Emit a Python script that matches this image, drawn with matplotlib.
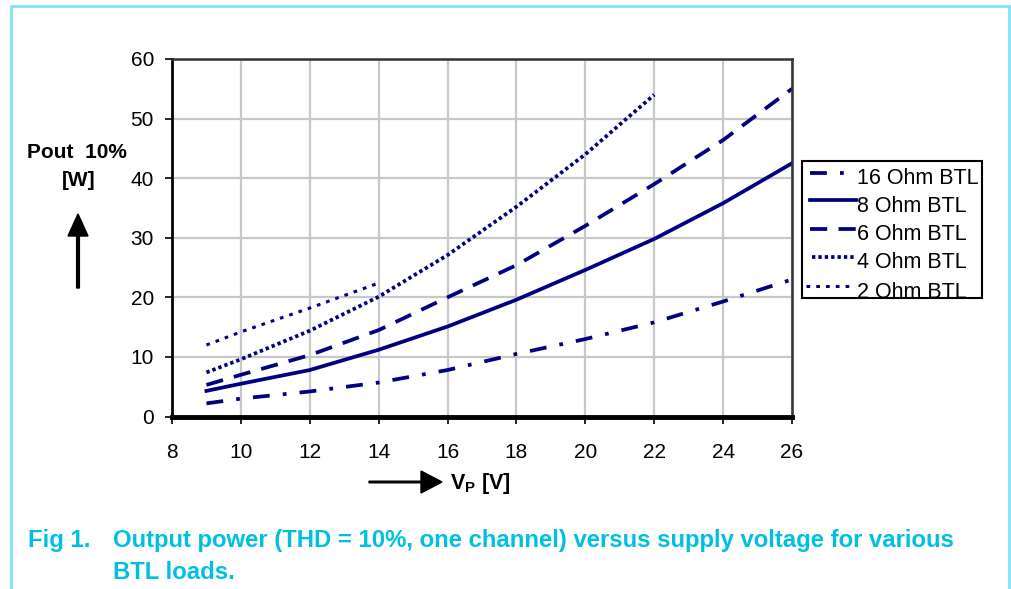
import matplotlib
matplotlib.use("Agg")
import matplotlib.pyplot as plt
from matplotlib.patches import FancyArrow, Rectangle
from matplotlib.lines import Line2D
from matplotlib.transforms import Bbox, TransformedBbox

plt.rcParams["font.family"] = ["Liberation Sans", "DejaVu Sans"]

W, H = 1012, 589

# supply voltage (V) and output power (W)
vp = [9, 10, 12, 14, 16, 18, 20, 22, 24, 26]
p16 = [2.2, 3.0, 4.2, 5.7, 7.8, 10.5, 13.0, 15.8, 19.3, 23.0]
p8 = [4.3, 5.5, 7.8, 11.2, 15.1, 19.6, 24.6, 29.8, 35.8, 42.5]
p6 = [5.3, 7.0, 10.3, 14.5, 20.0, 25.4, 32.0, 39.0, 46.4, 55.0]
vp4 = [9, 10, 12, 14, 16, 18, 20, 22]
p4 = [7.4, 9.6, 14.4, 20.1, 27.1, 35.2, 44.0, 54.0]
vp2 = [9, 10, 11, 12, 13, 14]
p2 = [12.0, 14.2, 16.2, 18.2, 20.3, 22.4]

labels = ["16 Ohm BTL", "8 Ohm BTL", "6 Ohm BTL", "4 Ohm BTL", "2 Ohm BTL"]
xticks = [8, 10, 12, 14, 16, 18, 20, 22, 24, 26]
yticks = [0, 10, 20, 30, 40, 50, 60]

navy = "#000080"
cyan = "#00c0e0"


def fx(px):
    return px / W


def fy(py):
    return 1 - py / H


fig = plt.figure(figsize=(W / 100, H / 100), dpi=100)

ax = fig.add_axes([fx(172), fy(416.5), fx(792) - fx(172), fy(59) - fy(416.5)])
ax.set_xlim(8, 26)
ax.set_ylim(0, 60)
ax.set_xticks(xticks)
ax.set_yticks(yticks)
ax.grid(True, color="#c8c8c8", linewidth=1.6)
ax.set_axisbelow(True)
for s in ["top", "right"]:
    ax.spines[s].set_color("#333333")
    ax.spines[s].set_linewidth(1.8)
ax.spines["left"].set_linewidth(2)
ax.spines["bottom"].set_linewidth(3.5)
ax.tick_params(axis="both", direction="out", length=5, width=1.2, labelsize=15)
ax.tick_params(axis="x", pad=14)
ax.tick_params(axis="y", pad=8)

lw = 2.7
styles = [
    dict(lw=lw, dashes=(4.5, 3.5, 1, 3.5)),
    dict(lw=lw, linestyle="-"),
    dict(lw=lw, dashes=(4.6, 3)),
    dict(lw=lw, dashes=(0.9, 0.8)),
    dict(lw=2.2, dashes=(1.2, 2)),
]
series = [(vp, p16), (vp, p8), (vp, p6), (vp4, p4), (vp2, p2)]
for (xs, ys), st in zip(series, styles):
    ax.plot(xs, ys, color=navy, **st)

# legend box, drawn by hand so the last row is cut off like the original
fig.add_artist(Rectangle((fx(802), fy(298)), fx(982) - fx(802), fy(161) - fy(298),
                         fill=False, edgecolor="black", linewidth=1.5,
                         transform=fig.transFigure, zorder=5))
clip = TransformedBbox(Bbox([[fx(790), fy(297)], [fx(1000), fy(150)]]),
                       fig.transFigure)
row_y = [173, 200, 229, 257, 286]
hx = [(810, 853), (810, 856), (810, 856), (812, 856), (806, 852)]
for lab, st, y, (x0, x1) in zip(labels, styles, row_y, hx):
    fig.add_artist(Line2D([fx(x0), fx(x1)], [fy(y), fy(y)], color=navy,
                          transform=fig.transFigure, **st))
    t = fig.text(fx(857), fy(y + 6), lab, fontsize=15.5, va="center", ha="left")
    t.set_clip_box(clip)
    t.set_clip_on(True)

# y label with up arrow
fig.text(fx(77), fy(152), "Pout  10%", ha="center", va="center",
         fontsize=15, fontweight="bold")
fig.text(fx(79), fy(180), "[W]", ha="center", va="center",
         fontsize=15, fontweight="bold")
fig.add_artist(FancyArrow(fx(78), fy(288), 0, fy(214) - fy(288),
                          width=1.6 / H, head_width=20 / W, head_length=22 / H,
                          length_includes_head=True, color="black",
                          transform=fig.transFigure))

# x label with right arrow
fig.add_artist(FancyArrow(fx(369), fy(482), fx(442) - fx(369), 0,
                          width=1.6 / H, head_width=22 / H, head_length=21 / W,
                          length_includes_head=True, color="black",
                          transform=fig.transFigure))
fig.text(fx(450), fy(483), r"V$_{\mathregular{P}}$ [V]", ha="left", va="center",
         fontsize=15.5, fontweight="bold")

# cyan frame
fig.add_artist(Rectangle((fx(11), -0.1), fx(1009) - fx(11), fy(6) + 0.1,
                         fill=False, edgecolor="#80e4f2", linewidth=2,
                         transform=fig.transFigure))

# caption
cap_kw = dict(color=cyan, fontsize=17.2, fontweight="bold", va="baseline")
fig.text(fx(28), fy(547), "Fig 1.", **cap_kw)
fig.text(fx(113), fy(547),
         "Output power (THD = 10%, one channel) versus supply voltage for various",
         **cap_kw)
fig.text(fx(113), fy(579), "BTL loads.", **cap_kw)

fig.savefig("out.png", dpi=100)
